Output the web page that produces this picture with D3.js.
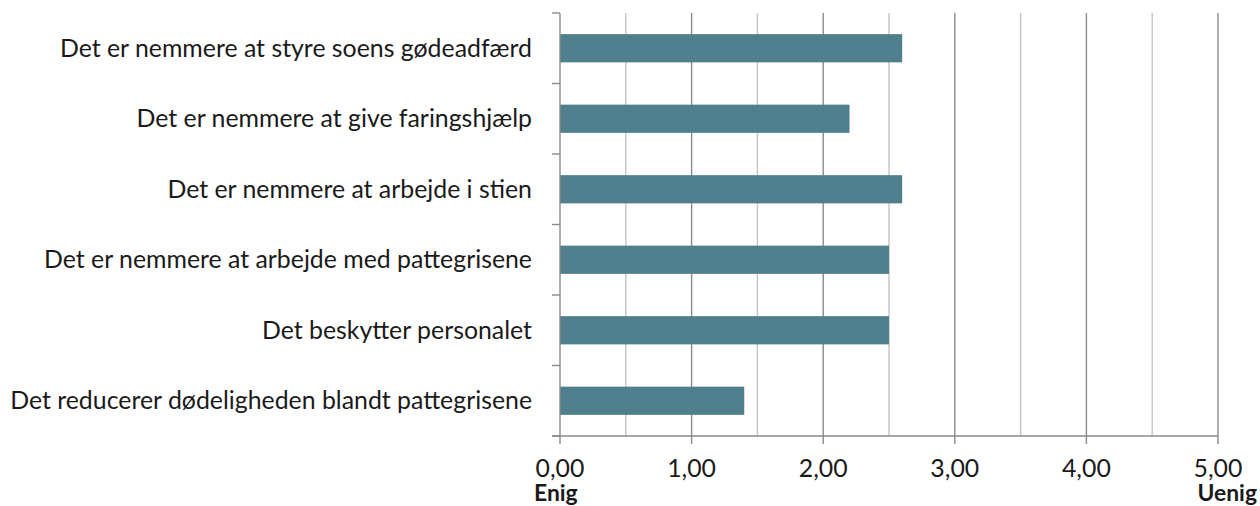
<!DOCTYPE html>
<html lang="en">
<head>
    <meta charset="UTF-8">
    <title>Enig / Uenig</title>
    <script src="https://d3js.org/d3.v7.min.js"></script>
    <style>
        body { margin: 0; background: #fff; }
        svg { display: block; }
        text { font-family: Lato, "Open Sans", sans-serif; fill: #1a1a1a; }
    </style>
</head>
<body>
    <script>
        const categories = [
            "Det er nemmere at styre soens gødeadfærd",
            "Det er nemmere at give faringshjælp",
            "Det er nemmere at arbejde i stien",
            "Det er nemmere at arbejde med pattegrisene",
            "Det beskytter personalet",
            "Det reducerer dødeligheden blandt pattegrisene"
        ];
        const values = [2.6, 2.2, 2.6, 2.5, 2.5, 1.4];
        const tickValues = [0, 1, 2, 3, 4, 5];
        const gridValues = [0.5, 1, 1.5, 2, 2.5, 3, 3.5, 4, 4.5, 5];
        const endLabels = ["Enig", "Uenig"];

        const width = 1260, height = 506;
        const plotLeft = 560, plotRight = 1218, plotTop = 13, plotBottom = 436;

        const svg = d3.select("body").append("svg")
            .attr("width", width)
            .attr("height", height);

        const x = d3.scaleLinear().domain([0, 5]).range([plotLeft, plotRight]);
        const y = d3.scaleBand().domain(categories).range([plotTop, plotBottom]).paddingInner(0.6).paddingOuter(0.3);

        // gridlines
        svg.append("g").selectAll("line")
            .data(gridValues)
            .join("line")
            .attr("x1", d => x(d)).attr("x2", d => x(d))
            .attr("y1", plotTop).attr("y2", plotBottom)
            .attr("stroke", d => Number.isInteger(d) ? "#8a8a8a" : "#c4c4c4")
            .attr("stroke-width", 1.4);

        // bars
        svg.append("g").selectAll("rect")
            .data(categories)
            .join("rect")
            .attr("x", x(0))
            .attr("y", d => y(d))
            .attr("width", (d, i) => x(values[i]) - x(0))
            .attr("height", y.bandwidth())
            .attr("fill", "#4f7f8c");

        // y axis
        const yAxis = svg.append("g");
        yAxis.append("line")
            .attr("x1", plotLeft).attr("x2", plotLeft)
            .attr("y1", plotTop).attr("y2", plotBottom)
            .attr("stroke", "#8a8a8a").attr("stroke-width", 1.4);
        const step = (plotBottom - plotTop) / categories.length;
        yAxis.selectAll(".ytick")
            .data(d3.range(categories.length + 1))
            .join("line")
            .attr("class", "ytick")
            .attr("x1", plotLeft - 8).attr("x2", plotLeft)
            .attr("y1", i => plotTop + i * step).attr("y2", i => plotTop + i * step)
            .attr("stroke", "#8a8a8a").attr("stroke-width", 1.4);

        const labels = yAxis.selectAll(".ylabel")
            .data(categories)
            .join("text")
            .attr("class", "ylabel")
            .attr("x", 532)
            .attr("y", d => y(d) + y.bandwidth() / 2)
            .attr("dy", "0.35em")
            .attr("text-anchor", "end")
            .style("font-size", "20px")
            .text(d => d);

        // fit the label width to the picture (longest label spans ~522px)
        const longest = d3.max(labels.nodes(), n => n.getComputedTextLength());
        const fs = 20 * 522 / longest;
        labels.style("font-size", fs + "px");

        // x axis
        const xAxis = svg.append("g");
        xAxis.append("line")
            .attr("x1", plotLeft - 8).attr("x2", plotRight)
            .attr("y1", plotBottom).attr("y2", plotBottom)
            .attr("stroke", "#8a8a8a").attr("stroke-width", 1.4);
        xAxis.selectAll(".xtick")
            .data(tickValues)
            .join("line")
            .attr("class", "xtick")
            .attr("x1", d => x(d)).attr("x2", d => x(d))
            .attr("y1", plotBottom).attr("y2", plotBottom + 8)
            .attr("stroke", "#8a8a8a").attr("stroke-width", 1.4);
        xAxis.selectAll(".xlabel")
            .data(tickValues)
            .join("text")
            .attr("class", "xlabel")
            .attr("x", d => x(d))
            .attr("y", 477)
            .attr("text-anchor", "middle")
            .style("font-size", fs + "px")
            .text(d => d3.format(".2f")(d).replace(".", ","));

        svg.append("text")
            .attr("x", 534).attr("y", 501)
            .style("font-size", (fs * 0.92) + "px")
            .style("font-weight", "bold")
            .text(endLabels[0]);
        svg.append("text")
            .attr("x", 1257).attr("y", 501)
            .attr("text-anchor", "end")
            .style("font-size", (fs * 0.92) + "px")
            .style("font-weight", "bold")
            .text(endLabels[1]);
    </script>
</body>
</html>
